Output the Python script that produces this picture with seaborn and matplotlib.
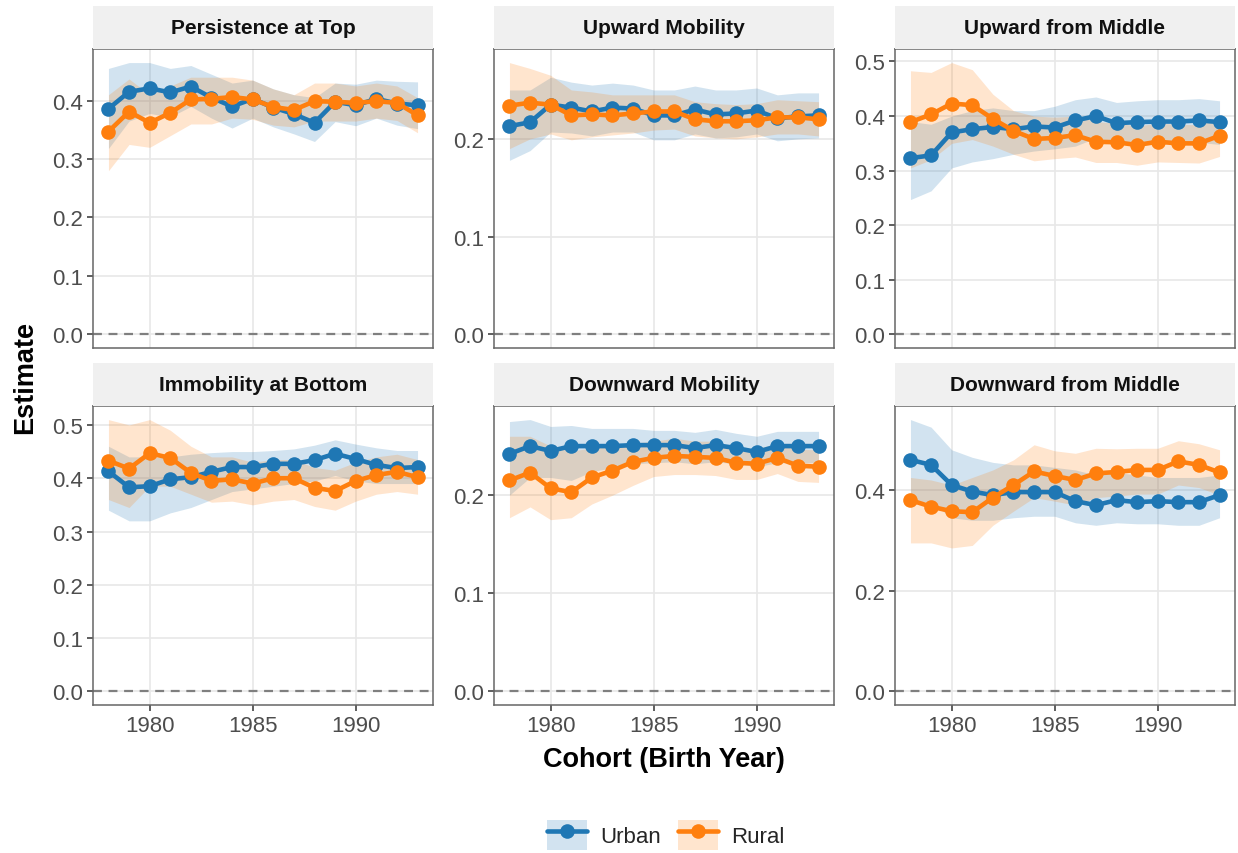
import numpy as np
import pandas as pd
import matplotlib
matplotlib.use("Agg")
import matplotlib.pyplot as plt
from matplotlib.patches import Patch
from matplotlib.lines import Line2D
import seaborn as sns

years = list(range(1978, 1994))
panels = ["Persistence at Top", "Upward Mobility", "Upward from Middle",
          "Immobility at Bottom", "Downward Mobility", "Downward from Middle"]

urban_est = {
    "Persistence at Top": [0.386, 0.415, 0.421, 0.414, 0.424, 0.405, 0.390, 0.403, 0.388, 0.377, 0.362, 0.398, 0.392, 0.403, 0.395, 0.392],
    "Upward Mobility": [0.213, 0.217, 0.235, 0.232, 0.228, 0.232, 0.231, 0.224, 0.224, 0.230, 0.225, 0.226, 0.229, 0.221, 0.223, 0.224],
    "Upward from Middle": [0.323, 0.328, 0.370, 0.376, 0.380, 0.376, 0.381, 0.379, 0.392, 0.400, 0.387, 0.389, 0.390, 0.390, 0.392, 0.389],
    "Immobility at Bottom": [0.413, 0.383, 0.385, 0.398, 0.402, 0.412, 0.421, 0.421, 0.427, 0.427, 0.434, 0.446, 0.436, 0.425, 0.419, 0.421],
    "Downward Mobility": [0.242, 0.250, 0.245, 0.250, 0.250, 0.250, 0.251, 0.251, 0.251, 0.248, 0.251, 0.248, 0.244, 0.250, 0.250, 0.250],
    "Downward from Middle": [0.460, 0.450, 0.410, 0.397, 0.390, 0.396, 0.396, 0.396, 0.378, 0.370, 0.380, 0.376, 0.378, 0.376, 0.376, 0.390],
}
urban_lo = {
    "Persistence at Top": [0.318, 0.365, 0.378, 0.372, 0.390, 0.370, 0.353, 0.370, 0.355, 0.343, 0.330, 0.364, 0.357, 0.370, 0.358, 0.352],
    "Upward Mobility": [0.178, 0.188, 0.207, 0.206, 0.203, 0.207, 0.207, 0.199, 0.199, 0.205, 0.201, 0.202, 0.205, 0.198, 0.200, 0.201],
    "Upward from Middle": [0.247, 0.263, 0.305, 0.316, 0.322, 0.330, 0.336, 0.340, 0.345, 0.360, 0.350, 0.352, 0.352, 0.350, 0.352, 0.348],
    "Immobility at Bottom": [0.340, 0.320, 0.320, 0.335, 0.345, 0.360, 0.375, 0.380, 0.385, 0.390, 0.395, 0.405, 0.395, 0.390, 0.390, 0.390],
    "Downward Mobility": [0.200, 0.218, 0.218, 0.215, 0.224, 0.228, 0.232, 0.233, 0.234, 0.232, 0.234, 0.232, 0.229, 0.233, 0.233, 0.233],
    "Downward from Middle": [0.380, 0.375, 0.345, 0.340, 0.340, 0.345, 0.348, 0.348, 0.335, 0.330, 0.335, 0.333, 0.333, 0.330, 0.330, 0.345],
}
urban_hi = {
    "Persistence at Top": [0.455, 0.465, 0.465, 0.455, 0.460, 0.445, 0.430, 0.435, 0.420, 0.410, 0.405, 0.430, 0.428, 0.435, 0.433, 0.432],
    "Upward Mobility": [0.250, 0.250, 0.263, 0.258, 0.255, 0.257, 0.255, 0.250, 0.250, 0.254, 0.250, 0.250, 0.252, 0.245, 0.247, 0.247],
    "Upward from Middle": [0.390, 0.385, 0.400, 0.410, 0.415, 0.410, 0.410, 0.418, 0.430, 0.435, 0.425, 0.428, 0.430, 0.430, 0.432, 0.428],
    "Immobility at Bottom": [0.460, 0.440, 0.440, 0.440, 0.445, 0.448, 0.450, 0.450, 0.452, 0.455, 0.462, 0.472, 0.464, 0.457, 0.452, 0.452],
    "Downward Mobility": [0.275, 0.277, 0.270, 0.271, 0.268, 0.268, 0.268, 0.266, 0.266, 0.264, 0.267, 0.263, 0.260, 0.265, 0.265, 0.265],
    "Downward from Middle": [0.540, 0.525, 0.480, 0.465, 0.455, 0.450, 0.450, 0.445, 0.440, 0.430, 0.435, 0.430, 0.425, 0.425, 0.425, 0.430],
}
rural_est = {
    "Persistence at Top": [0.347, 0.381, 0.362, 0.379, 0.402, 0.403, 0.406, 0.402, 0.389, 0.384, 0.399, 0.398, 0.396, 0.399, 0.396, 0.375],
    "Upward Mobility": [0.234, 0.237, 0.235, 0.224, 0.225, 0.224, 0.226, 0.228, 0.228, 0.220, 0.218, 0.218, 0.219, 0.222, 0.222, 0.220],
    "Upward from Middle": [0.389, 0.403, 0.423, 0.420, 0.395, 0.373, 0.358, 0.360, 0.365, 0.353, 0.352, 0.347, 0.353, 0.350, 0.350, 0.364],
    "Immobility at Bottom": [0.433, 0.418, 0.447, 0.438, 0.410, 0.395, 0.398, 0.390, 0.400, 0.400, 0.382, 0.376, 0.395, 0.406, 0.412, 0.402],
    "Downward Mobility": [0.215, 0.223, 0.207, 0.203, 0.218, 0.225, 0.234, 0.238, 0.240, 0.239, 0.238, 0.233, 0.232, 0.238, 0.230, 0.229],
    "Downward from Middle": [0.380, 0.367, 0.358, 0.356, 0.385, 0.410, 0.437, 0.428, 0.420, 0.433, 0.436, 0.440, 0.440, 0.457, 0.450, 0.435],
}
rural_lo = {
    "Persistence at Top": [0.280, 0.325, 0.320, 0.340, 0.360, 0.360, 0.370, 0.368, 0.358, 0.355, 0.365, 0.365, 0.365, 0.370, 0.366, 0.345],
    "Upward Mobility": [0.190, 0.200, 0.205, 0.199, 0.202, 0.204, 0.206, 0.209, 0.210, 0.203, 0.201, 0.200, 0.202, 0.205, 0.205, 0.203],
    "Upward from Middle": [0.305, 0.320, 0.350, 0.357, 0.345, 0.330, 0.318, 0.322, 0.325, 0.315, 0.315, 0.310, 0.316, 0.315, 0.314, 0.326],
    "Immobility at Bottom": [0.360, 0.345, 0.385, 0.385, 0.370, 0.355, 0.357, 0.350, 0.357, 0.360, 0.347, 0.340, 0.357, 0.370, 0.375, 0.370],
    "Downward Mobility": [0.177, 0.188, 0.175, 0.177, 0.191, 0.200, 0.210, 0.219, 0.221, 0.221, 0.220, 0.216, 0.216, 0.222, 0.214, 0.213],
    "Downward from Middle": [0.295, 0.295, 0.285, 0.290, 0.330, 0.358, 0.385, 0.378, 0.370, 0.385, 0.388, 0.392, 0.392, 0.410, 0.405, 0.390],
}
rural_hi = {
    "Persistence at Top": [0.410, 0.437, 0.410, 0.425, 0.440, 0.440, 0.440, 0.435, 0.420, 0.410, 0.430, 0.430, 0.425, 0.430, 0.425, 0.405],
    "Upward Mobility": [0.278, 0.272, 0.265, 0.250, 0.248, 0.245, 0.245, 0.245, 0.245, 0.238, 0.236, 0.235, 0.236, 0.240, 0.239, 0.238],
    "Upward from Middle": [0.483, 0.480, 0.498, 0.485, 0.440, 0.410, 0.400, 0.398, 0.400, 0.390, 0.387, 0.382, 0.387, 0.385, 0.384, 0.398],
    "Immobility at Bottom": [0.510, 0.500, 0.510, 0.490, 0.460, 0.440, 0.440, 0.430, 0.435, 0.435, 0.420, 0.415, 0.430, 0.440, 0.445, 0.435],
    "Downward Mobility": [0.260, 0.260, 0.250, 0.245, 0.248, 0.250, 0.253, 0.255, 0.258, 0.255, 0.255, 0.248, 0.248, 0.252, 0.247, 0.246],
    "Downward from Middle": [0.425, 0.420, 0.410, 0.425, 0.440, 0.460, 0.490, 0.478, 0.473, 0.483, 0.482, 0.483, 0.483, 0.498, 0.492, 0.480],
}
y_ticks = {
    "Persistence at Top": [0.0, 0.1, 0.2, 0.3, 0.4],
    "Upward Mobility": [0.0, 0.1, 0.2],
    "Upward from Middle": [0.0, 0.1, 0.2, 0.3, 0.4, 0.5],
    "Immobility at Bottom": [0.0, 0.1, 0.2, 0.3, 0.4, 0.5],
    "Downward Mobility": [0.0, 0.1, 0.2],
    "Downward from Middle": [0.0, 0.2, 0.4],
}
x_ticks = [1980, 1985, 1990]
groups = ["Urban", "Rural"]

rows = []
for p in panels:
    for g, est, lo, hi in [("Urban", urban_est, urban_lo, urban_hi),
                           ("Rural", rural_est, rural_lo, rural_hi)]:
        for i, y in enumerate(years):
            rows.append({"panel": p, "group": g, "year": y,
                         "estimate": est[p][i], "lo": lo[p][i], "hi": hi[p][i]})
df = pd.DataFrame(rows)

sns.set_theme(style="white")
plt.rcParams['font.family'] = ['Liberation Sans', 'DejaVu Sans']

palette = {"Urban": "#1f77b4", "Rural": "#ff7f0e"}
W, H = 1238, 854
fig = plt.figure(figsize=(W / 100, H / 100), dpi=100)

col_x = [93, 494, 895]
row_top = [50, 407]
pw, ph = 340, 299
strip_h = 43

for k, p in enumerate(panels):
    r, c = divmod(k, 3)
    x0 = col_x[c]
    y0 = row_top[r]
    ax = fig.add_axes([x0 / W, 1 - (y0 + ph) / H, pw / W, ph / H])
    sax = fig.add_axes([x0 / W, 1 - y0 / H, pw / W, strip_h / H])
    sax.set_facecolor("#f0f0f0")
    sax.set_xticks([]); sax.set_yticks([])
    for s in sax.spines.values():
        s.set_visible(False)
    sax.text(0.5, 0.5, p, ha="center", va="center", fontsize=15,
             fontweight="bold", color="#111111", transform=sax.transAxes)

    sub = df[df.panel == p]
    for g in groups:
        gd = sub[sub.group == g]
        ax.fill_between(gd.year, gd.lo, gd.hi, color=palette[g], alpha=0.2,
                        linewidth=0, zorder=1)
    ax.axhline(0, color="#7f7f7f", linestyle=(0, (4, 3)), linewidth=1.6, zorder=1.5)
    sns.lineplot(data=sub, x="year", y="estimate", hue="group", hue_order=groups,
                 palette=palette, marker="o", markersize=10.5, markeredgewidth=0,
                 linewidth=3.3, ax=ax, legend=False, zorder=3)

    lo_all = min(0, sub.lo.min())
    hi_all = sub.hi.max()
    span = hi_all - lo_all
    ax.set_ylim(lo_all - 0.05 * span, hi_all + 0.05 * span)
    ax.set_xlim(1978 - 0.75, 1993 + 0.75)
    ax.set_yticks(y_ticks[p])
    ax.set_yticklabels([f"{v:.1f}" for v in y_ticks[p]])
    ax.set_xticks(x_ticks)
    ax.grid(True, color="#e8e8e8", linewidth=1.2, zorder=0)
    ax.set_axisbelow(True)
    ax.set_xlabel("")
    ax.set_ylabel("")
    ax.tick_params(axis="both", which="major", length=4, width=1.1,
                   color="#333333", labelsize=16, labelcolor="#4d4d4d",
                   direction="out", bottom=True, left=True, pad=3)
    if r == 0:
        ax.tick_params(axis="x", labelbottom=False, bottom=False)
    for s in ax.spines.values():
        s.set_color("#666666")
        s.set_linewidth(1.1)

fig.text((93 + 1235) / 2 / W, 1 - 760 / H, "Cohort (Birth Year)", ha="center",
         va="center", fontsize=19.5, fontweight="bold", color="black")
fig.text(25 / W, 1 - 378 / H, "Estimate", ha="center", va="center",
         rotation=90, fontsize=19.5, fontweight="bold", color="black")

handles = []
for g in groups:
    patch = Patch(facecolor=palette[g], alpha=0.2, edgecolor="none")
    line = Line2D([], [], color=palette[g], marker="o", markersize=10.5,
                  linewidth=3.3, markeredgewidth=0)
    handles.append((patch, line))
fig.legend(handles, groups, loc="center", bbox_to_anchor=(666 / W, 1 - 836 / H),
           ncol=2, frameon=False, fontsize=16, handlelength=1.8, handleheight=1.7,
           columnspacing=0.75, handletextpad=0.6)

fig.savefig("out.png", dpi=100)
